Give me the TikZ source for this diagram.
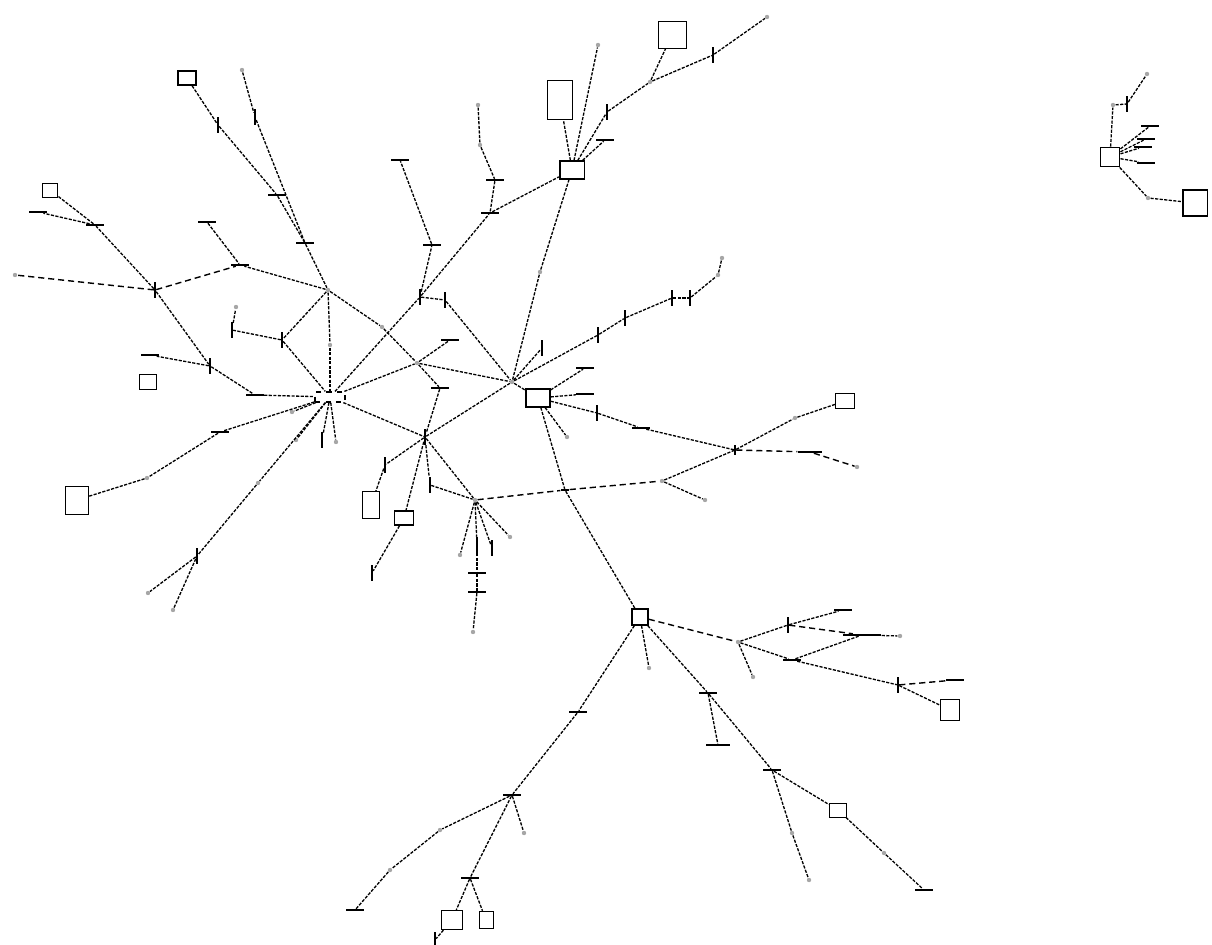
\documentclass[tikz,border=0pt]{standalone}
\begin{document}
\begin{tikzpicture}[x=0.02cm,y=-0.02cm,
  hb/.style={rectangle,fill=black,inner sep=0,minimum width=10pt,minimum height=1pt},
  vb/.style={rectangle,fill=black,inner sep=0,minimum width=1pt,minimum height=9pt},
  ft/.style={circle,fill=black!35,inner sep=0,minimum size=2.5pt},
  bx/.style={rectangle,draw,line width=0.9pt,inner sep=0},
  bk/.style={rectangle,draw,line width=0.5pt,inner sep=0},
  ln/.style={line width=0.75pt,dash pattern=on 1.8pt off 0.8pt},
  ld/.style={line width=0.8pt,dash pattern=on 3.5pt off 2.2pt}]
\useasboundingbox (0,0) rectangle (1212,945);
% hubs
\node[bx,minimum width=17pt,minimum height=5.5pt,dashed] (A) at (330,397) {};
\node[bx,minimum width=13.5pt,minimum height=10pt] (B) at (538,398) {};
\node[bx,minimum width=9pt,minimum height=9pt] (C) at (640,617) {};
\node[bx,minimum width=14pt,minimum height=10pt] (D) at (572,170) {};
\node[vb] (E) at (425,437) {};
\node[vb] (F) at (155,290) {};
\node[hb,minimum width=5pt] (G) at (565,490) {};
\node[vb,minimum height=6pt] (H) at (735,450) {};
\node[ft] (I) at (475,500) {};
\node[bx,minimum width=11pt,minimum height=11pt] (J) at (1110,157) {};
\node[ft] (K) at (328,290) {};
\node[ft] (K1) at (330,345) {};
\node[ft] (M) at (417,363) {};
\node[ft] (P) at (512,382) {};
\node[vb] (N1) at (420,297) {};
\node[hb] (N2) at (490,213) {};
% top-left
\node[bx,minimum width=10pt,minimum height=8pt] (n1) at (187,78) {};
\node[vb] (n2) at (218,125) {};
\node[hb] (n3) at (277,195) {};
\node[ft] (n4) at (242,70) {};
\node[vb] (n4b) at (255,117) {};
\node[hb] (n5) at (305,243) {};
\node[hb] (n6) at (240,265) {};
\node[hb] (n7) at (95,225) {};
\node[bk,minimum width=9pt,minimum height=8pt] (n8) at (50,190) {};
\node[hb] (n9) at (38,212) {};
\node[ft] (n10) at (15,275) {};
\node[hb] (n11) at (207,222) {};
\node[vb] (n12) at (210,366) {};
\node[hb] (n13) at (150,355) {};
\node[bk,minimum width=10pt,minimum height=9pt] (n14) at (148,382) {};
\node[ft] (n15) at (236,307) {};
\node[vb] (n15b) at (232,330) {};
\node[vb] (n16) at (282,340) {};
\node[hb] (n17) at (255,395) {};
\node[hb] (n18) at (220,432) {};
\node[ft] (n19) at (147,478) {};
\node[bk,minimum width=13pt,minimum height=16pt] (n20) at (77,500) {};
\node[ft] (n21) at (258,483) {};
\node[vb] (n22) at (197,556) {};
\node[ft] (n23) at (148,593) {};
\node[ft] (n24) at (173,610) {};
\node[ft] (n25) at (296,440) {};
\node[vb] (n26) at (322,440) {};
\node[ft] (n27) at (336,442) {};
\node[ft] (n28) at (292,412) {};
% centre
\node[vb] (n31) at (385,465) {};
\node[bk,minimum width=10pt,minimum height=15pt] (n32) at (371,505) {};
\node[bx,minimum width=11pt,minimum height=8pt] (n33) at (404,518) {};
\node[vb] (n34) at (372,573) {};
\node[vb] (n35) at (430,485) {};
\node[ft] (n36) at (460,555) {};
\node[vb] (n37) at (477,545) {};
\node[vb] (n38) at (492,548) {};
\node[ft] (n39) at (510,537) {};
\node[hb] (n40) at (477,573) {};
\node[hb] (n41) at (477,592) {};
\node[ft] (n42) at (473,632) {};
\node[hb] (n43) at (440,388) {};
\node[hb] (n44) at (450,340) {};
\node[vb] (n45) at (445,300) {};
\node[ft] (n46) at (382,327) {};
\node[hb] (n47) at (400,160) {};
\node[hb] (n49) at (432,245) {};
\node[ft] (n50) at (478,105) {};
\node[ft] (n52) at (480,145) {};
\node[hb] (n51) at (495,180) {};
% top
\node[bk,minimum width=14pt,minimum height=22pt] (n54) at (560,100) {};
\node[hb] (n55) at (605,140) {};
\node[vb] (n56) at (607,112) {};
\node[ft] (n57) at (650,82) {};
\node[bk,minimum width=16pt,minimum height=15pt] (n58) at (672,35) {};
\node[vb] (n60) at (713,55) {};
\node[ft] (n59) at (767,17) {};
\node[ft] (n62) at (598,45) {};
\node[ft] (n63) at (540,272) {};
\node[vb] (n64) at (598,335) {};
\node[vb] (n65) at (625,318) {};
\node[vb] (n66) at (672,298) {};
\node[vb] (n67) at (690,298) {};
\node[ft] (n68) at (718,275) {};
\node[ft] (n69) at (722,258) {};
% right of B
\node[hb] (n70) at (585,368) {};
\node[hb] (n70b) at (585,394) {};
\node[vb] (n71) at (597,413) {};
\node[hb] (n72) at (641,428) {};
\node[ft] (n73) at (567,437) {};
\node[vb] (n75) at (542,348) {};
\node[ft] (n76) at (795,418) {};
\node[bk,minimum width=11pt,minimum height=9pt] (n77) at (845,401) {};
\node[hb,minimum width=14pt] (n78) at (810,452) {};
\node[ft] (n79) at (857,467) {};
\node[ft] (n80) at (662,481) {};
\node[ft] (n81) at (705,500) {};
% below C
\node[ft] (n82) at (738,642) {};
\node[ft] (n83) at (649,668) {};
\node[vb] (n84) at (788,625) {};
\node[hb] (n85) at (843,610) {};
\node[hb,minimum width=22pt] (n86) at (862,635) {};
\node[ft] (n87) at (900,636) {};
\node[hb] (n88) at (792,660) {};
\node[vb] (n89) at (898,685) {};
\node[hb] (n90) at (955,680) {};
\node[bk,minimum width=11pt,minimum height=12pt] (n91) at (950,710) {};
\node[ft] (n92) at (753,677) {};
\node[hb] (n93) at (578,712) {};
\node[hb] (n94) at (512,795) {};
\node[ft] (n95) at (440,830) {};
\node[ft] (n96) at (390,870) {};
\node[hb] (n97) at (355,910) {};
\node[hb] (n98) at (470,878) {};
\node[bk,minimum width=12pt,minimum height=11pt] (n99) at (452,920) {};
\node[bk,minimum width=8pt,minimum height=10pt] (n100) at (486,920) {};
\node[vb] (n101) at (435,940) {};
\node[ft] (n102) at (524,833) {};
\node[hb] (n103) at (708,693) {};
\node[hb,minimum width=14pt] (n104) at (718,745) {};
\node[hb] (n105) at (772,770) {};
\node[ft] (n106) at (792,833) {};
\node[ft] (n107) at (809,880) {};
\node[bk,minimum width=10pt,minimum height=8pt] (n108) at (838,810) {};
\node[ft] (n109) at (884,853) {};
\node[hb] (n110) at (924,890) {};
% right cluster
\node[ft] (n111) at (1113,105) {};
\node[vb] (n111b) at (1127,104) {};
\node[ft] (n112) at (1147,74) {};
\node[hb] (n113) at (1150,126) {};
\node[hb] (n114) at (1146,139) {};
\node[hb] (n115) at (1143,147) {};
\node[hb] (n116) at (1146,163) {};
\node[ft] (n118) at (1148,198) {};
\node[bx,minimum width=14pt,minimum height=15pt] (n119) at (1195,203) {};
% edges
\foreach \a/\b in {n1/n2,n2/n3,n3/n5,n4/n4b,n4b/n5,n5/K,K/n6,n11/n6,F/n7,n7/n8,n7/n9,
  F/n12,n12/n13,n12/n17,n17/A,K/n46,n46/M,K/n16,n16/n15b,n15b/n15,n16/A,K/K1,K1/A,
  A/n18,n18/n19,n19/n20,A/n21,n21/n22,n22/n23,n22/n24,A/n25,A/n26,A/n27,A/n28,A/E,A/M,A/N1,
  N1/N2,N2/D,N1/n49,n49/n47,N1/n45,n45/P,M/n44,M/n43,n43/E,M/P,E/P,E/n31,n31/n32,E/n33,n33/n34,
  E/n35,n35/I,E/I,I/n36,I/n37,I/n38,I/n39,n37/n40,n40/n41,n41/n42,n50/n52,n52/n51,n51/N2,
  D/n62,D/n54,D/n55,D/n56,n56/n57,n57/n58,n57/n60,n60/n59,P/n63,n63/D,P/n75,P/n64,n64/n65,
  n65/n66,n66/n67,n67/n68,n68/n69,P/B,B/n70,B/n70b,B/n71,n71/n72,n72/H,B/n73,B/G,n80/H,n80/n81,
  H/n76,n76/n77,G/C,C/n83,n82/n84,n84/n85,n86/n87,n82/n88,n88/n86,n88/n89,n89/n91,n82/n92,
  C/n93,n93/n94,n94/n95,n95/n96,n96/n97,n94/n98,n98/n99,n98/n100,n99/n101,n94/n102,
  C/n103,n103/n104,n103/n105,n105/n106,n106/n107,n105/n108,n108/n109,n109/n110,
  J/n111,n111/n111b,n111b/n112,J/n113,J/n114,J/n115,J/n116,J/n118,n118/n119}
  \draw[ln] (\a) -- (\b);
\foreach \a/\b in {F/n6,F/n10,I/G,G/n80,H/n78,n78/n79,C/n82,n84/n86,n89/n90}
  \draw[ld] (\a) -- (\b);
\end{tikzpicture}
\end{document}
